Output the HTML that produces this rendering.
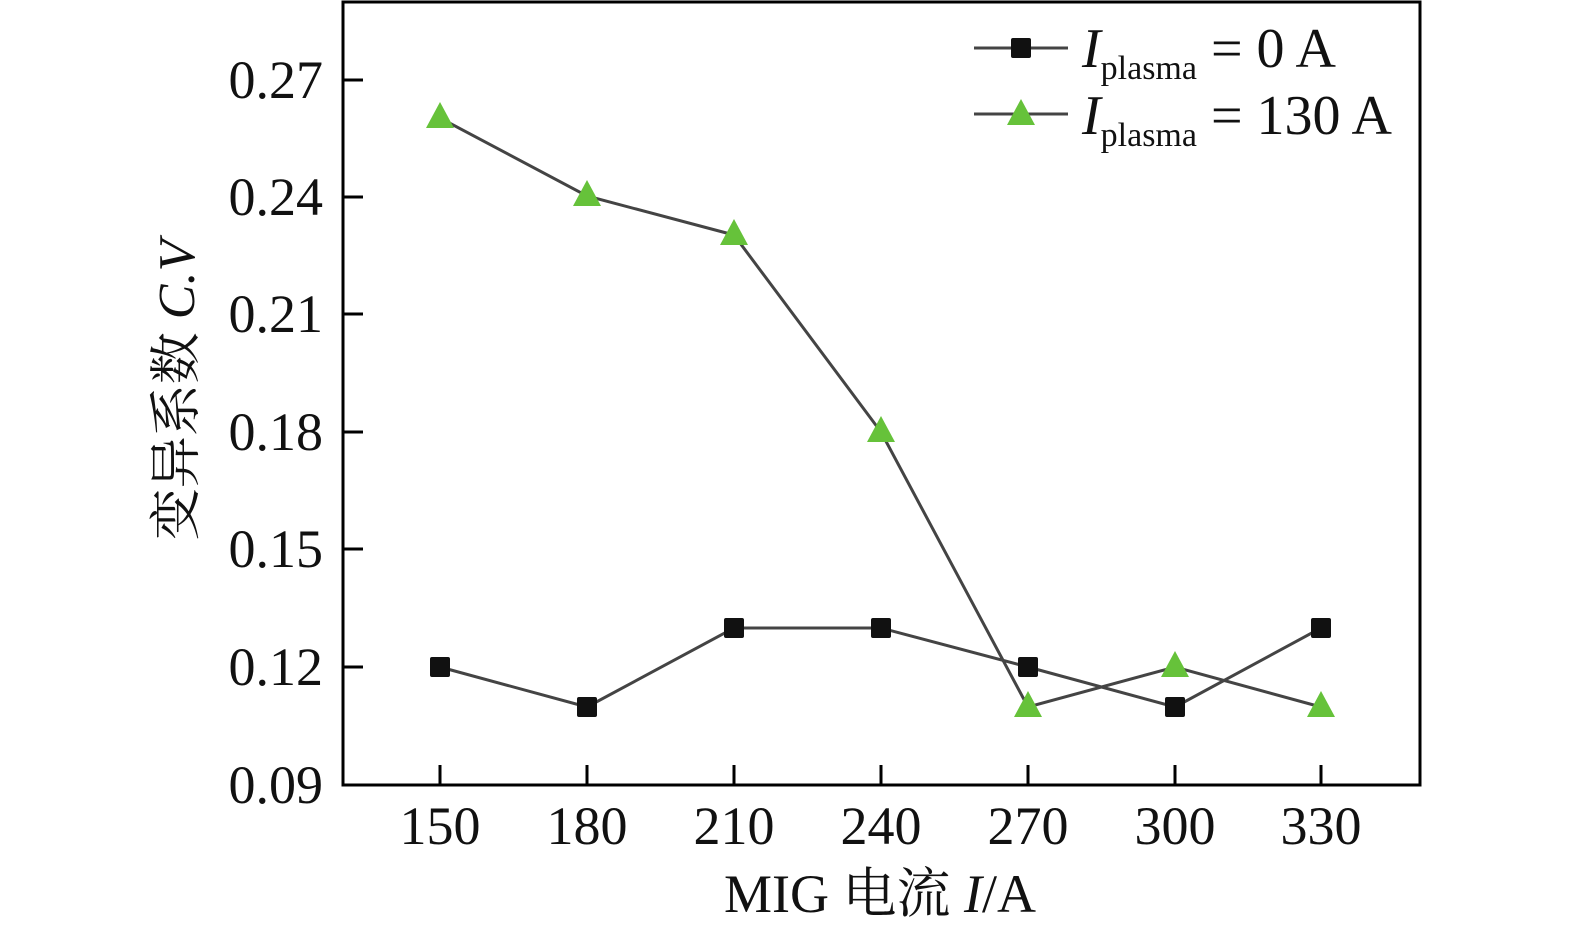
<!DOCTYPE html>
<html><head><meta charset="utf-8"><style>
html,body{margin:0;padding:0;background:#fff;}
svg text{font-family:"Liberation Serif","Noto Serif CJK SC",serif;fill:#111;}
</style></head><body>
<svg width="1575" height="932" viewBox="0 0 1575 932" xmlns="http://www.w3.org/2000/svg">
<rect x="343" y="2" width="1077" height="783" fill="none" stroke="#000" stroke-width="3"/>
<g stroke="#000" stroke-width="3">
<line x1="343" y1="80" x2="363" y2="80"/>
<line x1="343" y1="197" x2="363" y2="197"/>
<line x1="343" y1="314" x2="363" y2="314"/>
<line x1="343" y1="432" x2="363" y2="432"/>
<line x1="343" y1="549" x2="363" y2="549"/>
<line x1="343" y1="667" x2="363" y2="667"/>
<line x1="440" y1="785" x2="440" y2="765"/>
<line x1="587" y1="785" x2="587" y2="765"/>
<line x1="734" y1="785" x2="734" y2="765"/>
<line x1="881" y1="785" x2="881" y2="765"/>
<line x1="1028" y1="785" x2="1028" y2="765"/>
<line x1="1175" y1="785" x2="1175" y2="765"/>
<line x1="1321" y1="785" x2="1321" y2="765"/>
</g>
<g font-size="54" text-anchor="end">
<text x="323" y="98">0.27</text>
<text x="323" y="215">0.24</text>
<text x="323" y="332">0.21</text>
<text x="323" y="450">0.18</text>
<text x="323" y="567">0.15</text>
<text x="323" y="685">0.12</text>
<text x="323" y="803">0.09</text>
</g>
<g font-size="54" text-anchor="middle">
<text x="440" y="844">150</text>
<text x="587" y="844">180</text>
<text x="734" y="844">210</text>
<text x="881" y="844">240</text>
<text x="1028" y="844">270</text>
<text x="1175" y="844">300</text>
<text x="1321" y="844">330</text>
<text x="880" y="912">MIG 电流 <tspan font-style="italic">I</tspan>/A</text>
</g>
<text transform="translate(194,390) rotate(-90)" font-size="52" text-anchor="middle">变异系数 <tspan font-style="italic">C.V</tspan></text>
<polyline fill="none" stroke="#444" stroke-width="3" points="440,667 587,707 734,628 881,628 1028,667 1175,707 1321,628"/>
<polyline fill="none" stroke="#444" stroke-width="3" points="440,118 587,196 734,235 881,432 1028,707 1175,667 1321,707"/>
<g fill="#111">
<rect x="430" y="657" width="20" height="20" rx="2"/>
<rect x="577" y="697" width="20" height="20" rx="2"/>
<rect x="724" y="618" width="20" height="20" rx="2"/>
<rect x="871" y="618" width="20" height="20" rx="2"/>
<rect x="1018" y="657" width="20" height="20" rx="2"/>
<rect x="1165" y="697" width="20" height="20" rx="2"/>
<rect x="1311" y="618" width="20" height="20" rx="2"/>
</g>
<g fill="#66c23a">
<polygon points="440,102 426,128 454,128"/>
<polygon points="587,180 573,206 601,206"/>
<polygon points="734,219 720,245 748,245"/>
<polygon points="881,416 867,442 895,442"/>
<polygon points="1028,691 1014,717 1042,717"/>
<polygon points="1175,651 1161,677 1189,677"/>
<polygon points="1321,691 1307,717 1335,717"/>
</g>
<line x1="974" y1="48" x2="1068" y2="48" stroke="#444" stroke-width="3"/>
<rect x="1011" y="38" width="20" height="20" rx="2" fill="#111"/>
<line x1="974" y1="114" x2="1068" y2="114" stroke="#444" stroke-width="3"/>
<polygon points="1021,99 1007,125 1035,125" fill="#66c23a"/>
<text x="1082" y="67" font-size="56"><tspan font-style="italic">I</tspan><tspan font-size="34" dy="12">plasma</tspan><tspan dy="-12"> = 0 A</tspan></text>
<text x="1082" y="134" font-size="56"><tspan font-style="italic">I</tspan><tspan font-size="34" dy="12">plasma</tspan><tspan dy="-12"> = 130 A</tspan></text>
</svg>
</body></html>
